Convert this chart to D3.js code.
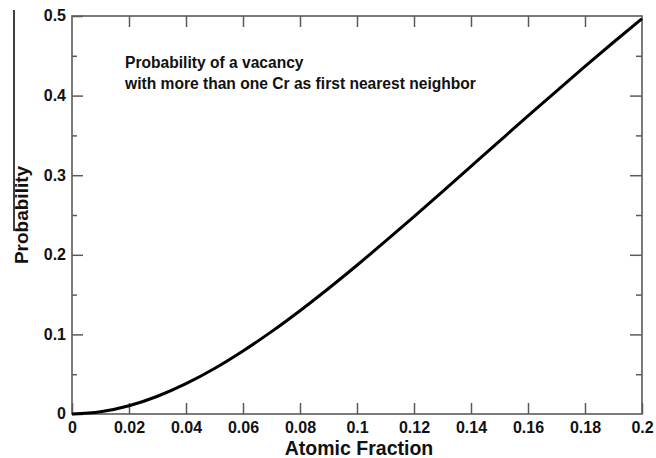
<!DOCTYPE html>
<html>
<head>
<meta charset="utf-8">
<script src="https://cdn.jsdelivr.net/npm/d3@7"></script>
<style>
  html, body { margin: 0; padding: 0; background: #fff; }
  svg text { font-family: "Liberation Sans", Arial, sans-serif; font-weight: bold; fill: #111; }
</style>
</head>
<body>
<svg id="chart" width="656" height="458"></svg>
<script>
// Atomic fraction of Cr (x) and probability of a vacancy having more than one Cr first neighbour (y)
const fraction = [0, 0.01, 0.02, 0.03, 0.04, 0.05, 0.06, 0.07, 0.08, 0.09, 0.10,
                  0.11, 0.12, 0.13, 0.14, 0.15, 0.16, 0.17, 0.18, 0.19, 0.20];
const probability = [0, 0.0027, 0.0103, 0.0223, 0.0381, 0.0572, 0.0792, 0.1035, 0.1298, 0.1577, 0.1869,
                     0.2171, 0.2480, 0.2794, 0.3111, 0.3428, 0.3744, 0.4057, 0.4366, 0.4670, 0.4967];

const xTicks = [0, 0.02, 0.04, 0.06, 0.08, 0.1, 0.12, 0.14, 0.16, 0.18, 0.2];
const yTicks = [0, 0.1, 0.2, 0.3, 0.4, 0.5];
const yMinorTicks = [0.05, 0.15, 0.25, 0.35, 0.45];
const noteLines = ["Probability of a vacancy", "with more than one Cr as first nearest neighbor"];

const svg = d3.select("#chart");
const plotL = 72, plotR = 642, plotT = 16, plotB = 414;

const x = d3.scaleLinear().domain([0, 0.2]).range([plotL, plotR]);
const y = d3.scaleLinear().domain([0, 0.5]).range([plotB, plotT]);

const frameColor = "#5a5a5a";
const fmt = d => d === 0 ? "0" : String(+d.toFixed(2));

// Bottom axis with labels, ticks pointing inward
const gx = svg.append("g").attr("transform", `translate(0,${plotB})`)
  .call(d3.axisBottom(x).tickValues(xTicks).tickFormat(fmt).tickSizeInner(-11).tickSizeOuter(0));
gx.selectAll("text").attr("font-size", 16).attr("dy", "0.71em").attr("y", 8);

// Top axis, ticks only
const gxt = svg.append("g").attr("transform", `translate(0,${plotT})`)
  .call(d3.axisTop(x).tickValues(xTicks.slice(1, -1)).tickFormat("").tickSizeInner(-11).tickSizeOuter(0));

// Left axis with labels
const gy = svg.append("g").attr("transform", `translate(${plotL},0)`)
  .call(d3.axisLeft(y).tickValues(yTicks).tickFormat(fmt).tickSizeInner(-11).tickSizeOuter(0));
gy.selectAll("text").attr("font-size", 16).attr("x", -6).attr("dy", "0.3em");
const gym = svg.append("g").attr("transform", `translate(${plotL},0)`)
  .call(d3.axisLeft(y).tickValues(yMinorTicks).tickFormat("").tickSizeInner(-5).tickSizeOuter(0));

// Right axis, ticks only
const gyr = svg.append("g").attr("transform", `translate(${plotR},0)`)
  .call(d3.axisRight(y).tickValues(yTicks.slice(1, -1)).tickFormat("").tickSizeInner(-12).tickSizeOuter(0));
const gyrm = svg.append("g").attr("transform", `translate(${plotR},0)`)
  .call(d3.axisRight(y).tickValues(yMinorTicks).tickFormat("").tickSizeInner(-6).tickSizeOuter(0));

[gx, gxt, gy, gym, gyr, gyrm].forEach(g => {
  g.select(".domain").remove();
  g.selectAll("line").attr("stroke", frameColor).attr("stroke-width", 1.5);
  g.selectAll("text").attr("font-family", "Liberation Sans, Arial, sans-serif").attr("font-weight", "bold").attr("fill", "#111");
});

// Plot frame
svg.append("rect")
  .attr("x", plotL).attr("y", plotT)
  .attr("width", plotR - plotL).attr("height", plotB - plotT)
  .attr("fill", "none").attr("stroke", frameColor).attr("stroke-width", 1.6);

// Curve
const line = d3.line().x((d, i) => x(fraction[i])).y(d => y(d)).curve(d3.curveMonotoneX);
svg.append("path").datum(probability)
  .attr("d", line)
  .attr("fill", "none").attr("stroke", "#000").attr("stroke-width", 3);

// Axis titles
svg.append("text")
  .attr("x", (plotL + plotR) / 2 + 2).attr("y", 455)
  .attr("text-anchor", "middle").attr("font-size", 19.5)
  .text("Atomic Fraction");
svg.append("text")
  .attr("transform", `translate(28,${(plotT + plotB) / 2}) rotate(-90)`)
  .attr("text-anchor", "middle").attr("font-size", 19)
  .text("Probability");

// Annotation
svg.append("g").selectAll("text").data(noteLines).join("text")
  .attr("x", 125).attr("y", (d, i) => 68 + i * 21)
  .attr("font-size", 15.6)
  .text(d => d);

// Vertical rule at left margin
svg.append("line")
  .attr("x1", 14).attr("x2", 14).attr("y1", 10).attr("y2", 231)
  .attr("stroke", "#000").attr("stroke-width", 1.5);
</script>
</body>
</html>
